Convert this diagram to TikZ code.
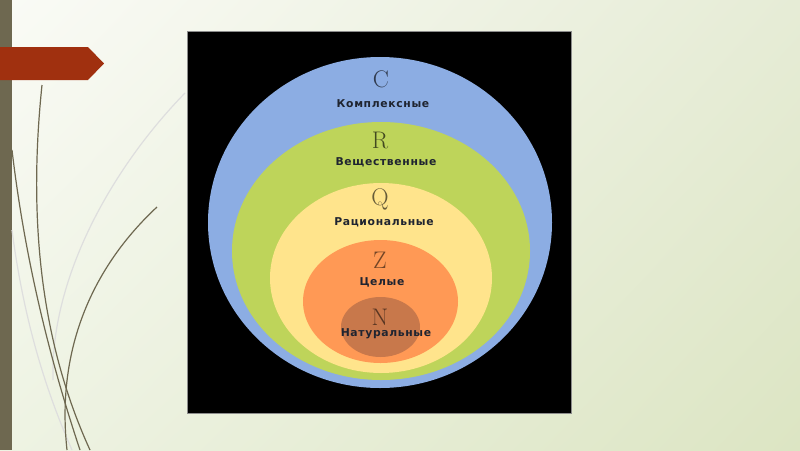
\documentclass[tikz,border=0pt]{standalone}
\usepackage{fontspec}
\newfontfamily\labelfont[LetterSpace=6]{DejaVu Sans}
\usetikzlibrary{positioning,shadings}

\definecolor{barolive}{HTML}{6E6850}
\definecolor{bannerred}{HTML}{A0300F}
\definecolor{bgUL}{HTML}{FAFBF6}
\definecolor{bgUR}{HTML}{E6ECD6}
\definecolor{bgLL}{HTML}{EEF3E3}
\definecolor{bgLR}{HTML}{DCE5C3}
\definecolor{setC}{HTML}{8CADE3}
\definecolor{setR}{HTML}{BED45A}
\definecolor{setQ}{HTML}{FFE48C}
\definecolor{setZ}{HTML}{FF9955}
\definecolor{setN}{HTML}{C8784B}
\definecolor{lblink}{HTML}{1F2430}

\begin{document}
\begin{tikzpicture}[x=1pt,y=-1pt,
  setname/.style={inner sep=0pt,text=lblink,font=\labelfont\bfseries\fontsize{10.8}{11}\selectfont},
  setletter/.style={inner sep=0pt,font=\fontsize{24}{24}\selectfont},
  stem/.style={barolive,line width=1.2pt},
  faintstem/.style={black!13,line width=1.2pt}]
\useasboundingbox (0,0) rectangle (800,450);
% slide background
\shade[upper left=bgUL,upper right=bgUR,lower left=bgLL,lower right=bgLR] (0,0) rectangle (800,450);
\fill [barolive] (0,0) rectangle (12,450);
\fill [bannerred] (0,47) -- (88,47) -- (104,63.5) -- (88,80) -- (0,80) -- cycle;
% grass stems
\draw [faintstem] (185,93) .. controls (110,170) and (50,280) .. (53,380);
\draw [faintstem] (12,230) .. controls (25,330) and (50,400) .. (72,450);
\draw [stem] (42,85) .. controls (30,200) and (35,330) .. (90,450);
\draw [stem] (12,150) .. controls (25,260) and (50,360) .. (80,450);
\draw [stem] (157,207) .. controls (100,260) and (55,340) .. (67,450);
% number sets
\fill [black] (187,31) rectangle (571,413);
\draw [black!45,line width=0.6pt] (187,31) rectangle (571,413);
\fill [setC] (380,222.5) ellipse (172 and 165.5);
\fill [setR] (381,251) ellipse (149 and 129);
\fill [setQ] (381,278) ellipse (111 and 95);
\fill [setZ] (380.5,301.5) ellipse (77.5 and 61.5);
\fill [setN] (380.5,327) ellipse (39.5 and 30);
\node [setletter,text=setC!35!black] (letC) at (381,79) {C};
\node [setname] (nameC) at (383,104) {Комплексные};
\node [setletter,text=setR!35!black] (letR) at (380,140) {R};
\node [setname] (nameR) at (386,162) {Вещественные};
\node [setletter,text=setQ!40!black] (letQ) at (380,199) {Q};
\node [setname] (nameQ) at (384,222) {Рациональные};
\node [setletter,text=setZ!45!black] (letZ) at (380,260) {Z};
\node [setname] (nameZ) at (382,282) {Целые};
\node [setletter,text=setN!45!black] (letN) at (380,317) {N};
\node [setname] (nameN) at (386,334) {Натуральные};
\end{tikzpicture}
\end{document}
